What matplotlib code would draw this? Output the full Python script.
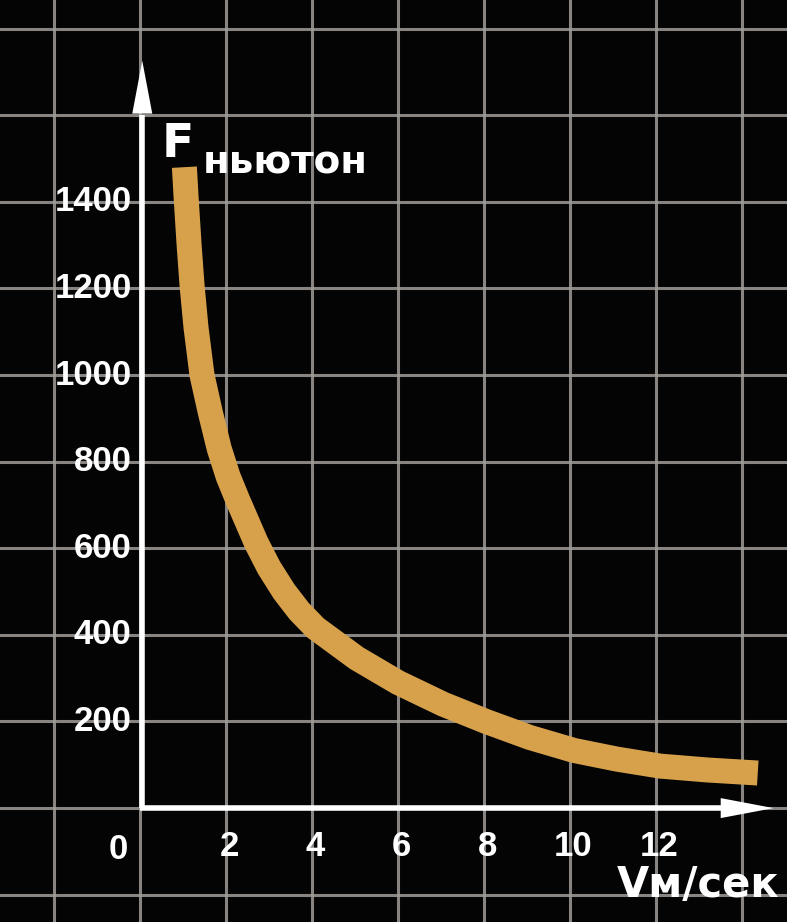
import matplotlib.pyplot as plt
import numpy as np

# speed V (m/s) vs force F (newton)
speed = [1.03, 1.07, 1.14, 1.21, 1.30, 1.44, 1.63, 1.84, 2.05, 2.26, 2.70, 3.0, 3.35,
         3.7, 4.08, 5.04, 6.0, 7.05, 8.05, 9.07, 10.1, 11.1, 12.1, 13.2, 14.37]
force = [1480, 1410, 1300, 1205, 1110, 1000, 915, 830, 765, 714, 613, 555, 500,
         455, 416, 346, 290, 240, 200, 163, 133, 113, 97, 88, 81]

x_ticks = [2, 4, 6, 8, 10, 12]
x_labels = ['2', '4', '6', '8', '10', '12']
y_ticks = [200, 400, 600, 800, 1000, 1200, 1400]
y_labels = ['200', '400', '600', '800', '1000', '1200', '1400']

bg = '#040404'
grid_col = '#a09c98'
curve_col = '#d7a14c'

fig = plt.figure(figsize=(7.87, 9.22), dpi=100, facecolor=bg)
ax = fig.add_axes([0, 0, 1, 1], facecolor=bg)
ax.set_xlim(-3.26, 15.05)
ax.set_ylim(-263, 1866)

# graph-paper grid behind everything
ax.set_xticks(np.arange(-2, 16, 2))
ax.set_yticks(np.arange(-200, 2000, 200))
ax.grid(True, color=grid_col, lw=2.2, alpha=0.85)
ax.tick_params(length=0, labelbottom=False, labelleft=False)
for s in ax.spines.values():
    s.set_visible(False)

# axes with arrows
head = '-|>,head_length=1.9,head_width=0.36'
ax.plot([0.05, 0.05], [0, 1600], color='white', lw=4, solid_capstyle='butt', zorder=3)
ax.plot([0, 13.8], [0, 0], color='white', lw=4, solid_capstyle='butt', zorder=3)
ax.annotate('', xy=(0.05, 1732), xytext=(0.05, 1560),
            arrowprops=dict(arrowstyle=head, color='white', lw=0, mutation_scale=20), zorder=4)
ax.annotate('', xy=(14.8, 0), xytext=(13.5, 0),
            arrowprops=dict(arrowstyle=head, color='white', lw=0, mutation_scale=20), zorder=4)

# the curve
ax.plot(speed, force, color=curve_col, lw=18, solid_capstyle='butt',
        solid_joinstyle='round', zorder=2)

# labels
num = dict(color='white', fontweight='bold', family='Liberation Sans')
word = dict(color='white', fontweight='bold', family='DejaVu Sans')
for t, lab in zip(y_ticks, y_labels):
    ax.text(-0.2, t, lab, ha='right', va='center', fontsize=25, **num)
for t, lab in zip(x_ticks, x_labels):
    ax.text(t + 0.08, -88, lab, ha='center', va='center', fontsize=25, **num)
ax.text(-0.52, -95, '0', ha='center', va='center', fontsize=25, **num)

ax.text(0.5, 1480, 'F', ha='left', va='bottom', fontsize=34, **word)
ax.text(1.45, 1447, 'ньютон', ha='left', va='bottom', fontsize=28, **word)
ax.text(14.88, -178, 'Vм/сек', ha='right', va='center', fontsize=30, **word)

fig.savefig('out.png', dpi=100, facecolor=bg)
